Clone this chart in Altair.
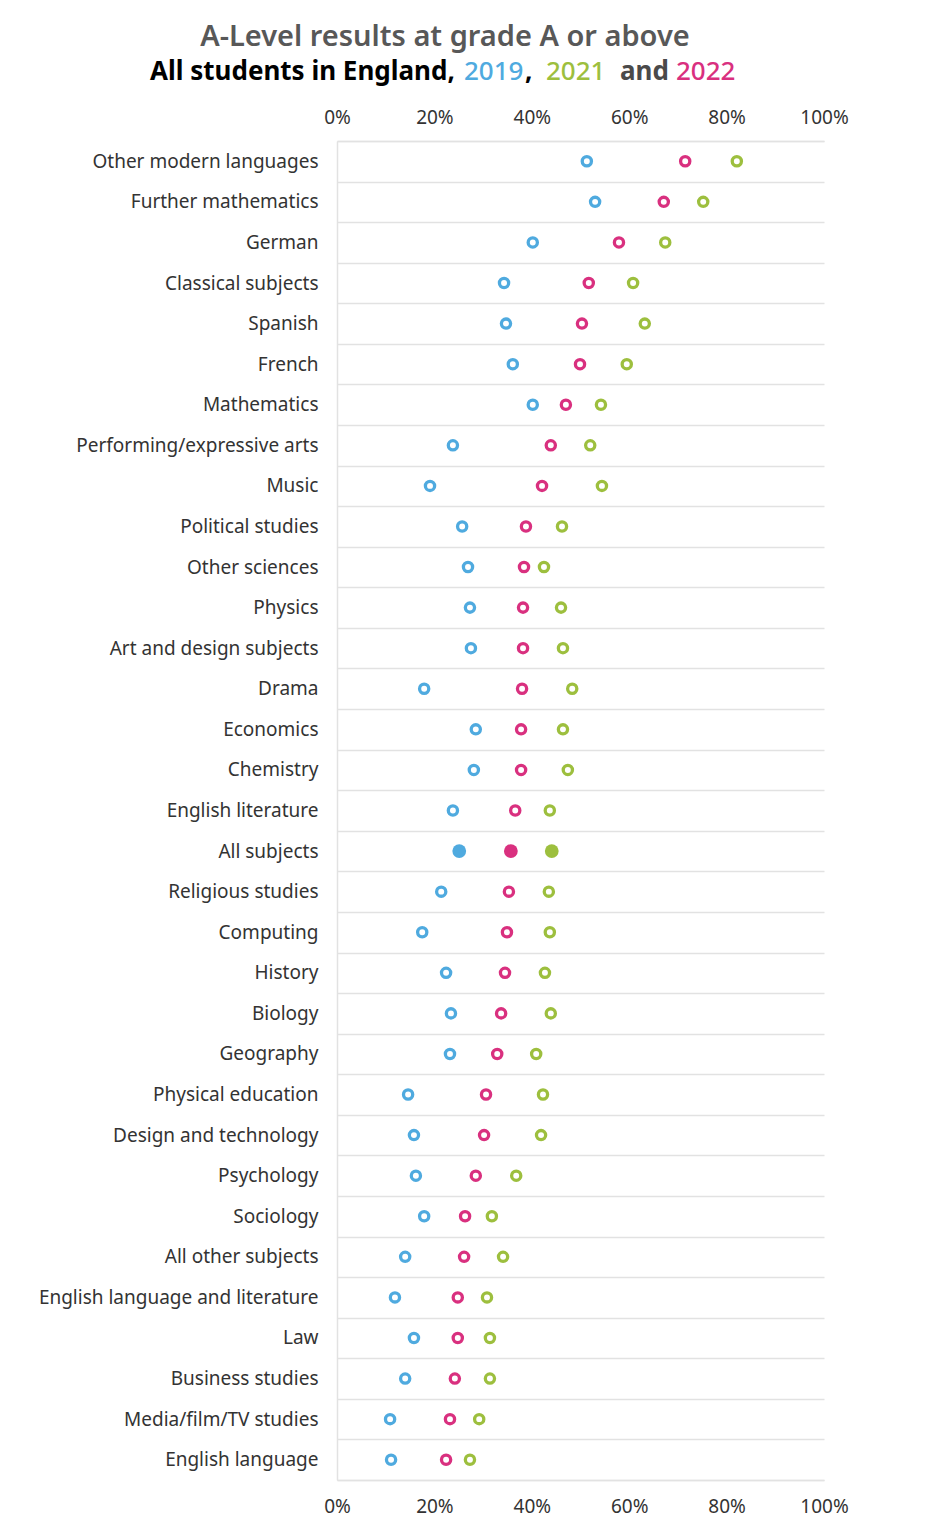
import altair as alt
import pandas as pd

subjects = [
    "Other modern languages", "Further mathematics", "German", "Classical subjects",
    "Spanish", "French", "Mathematics", "Performing/expressive arts", "Music",
    "Political studies", "Other sciences", "Physics", "Art and design subjects",
    "Drama", "Economics", "Chemistry", "English literature", "All subjects",
    "Religious studies", "Computing", "History", "Biology", "Geography",
    "Physical education", "Design and technology", "Psychology", "Sociology",
    "All other subjects", "English language and literature", "Law",
    "Business studies", "Media/film/TV studies", "English language",
]
v2019 = [51.3, 53.0, 40.2, 34.3, 34.7, 36.1, 40.2, 23.8, 19.1, 25.7, 26.9, 27.3, 27.5,
         17.9, 28.5, 28.1, 23.8, 25.1, 21.4, 17.5, 22.4, 23.4, 23.2, 14.6, 15.8, 16.2,
         17.9, 14.0, 11.9, 15.8, 14.0, 10.9, 11.1]
v2022 = [71.5, 67.1, 57.9, 51.7, 50.3, 49.9, 47.0, 43.9, 42.1, 38.8, 38.4, 38.2, 38.2,
         38.0, 37.8, 37.8, 36.6, 35.7, 35.3, 34.9, 34.5, 33.7, 32.9, 30.6, 30.2, 28.5,
         26.3, 26.1, 24.8, 24.8, 24.2, 23.2, 22.4]
v2021 = [82.1, 75.2, 67.4, 60.8, 63.2, 59.5, 54.2, 52.0, 54.4, 46.2, 42.5, 46.0, 46.4,
         48.3, 46.4, 47.4, 43.7, 44.1, 43.5, 43.7, 42.7, 43.9, 40.9, 42.3, 41.9, 36.8,
         31.8, 34.1, 30.8, 31.4, 31.4, 29.2, 27.3]
years = ["2019", "2021", "2022"]
colors = ["#4faadf", "#9dbf3e", "#d9307f"]
tick_values = [0, 0.2, 0.4, 0.6, 0.8, 1.0]

rows = []
for i, s in enumerate(subjects):
    for yr, vals in zip(years, [v2019, v2021, v2022]):
        rows.append({"subject": s, "year": yr, "value": vals[i] / 100})
df = pd.DataFrame(rows)

FONT = "Noto Sans"
GRID = "#e2e2e2"

xscale = alt.Scale(domain=[0, 1], nice=False, zero=True)
yscale = alt.Scale(domain=subjects, paddingInner=0, paddingOuter=0)
cscale = alt.Scale(domain=years, range=colors)

def xaxis(orient, pad):
    return alt.Axis(orient=orient, values=tick_values, format="%", title=None,
                    ticks=False, grid=False, domain=True, domainColor=GRID,
                    domainWidth=1.5, labelFontSize=19, labelColor="#333333",
                    labelFont=FONT, labelPadding=pad, labelFlush=False,
                    labelOverlap=False)

yaxis = alt.Axis(title=None, ticks=False, grid=True, gridColor=GRID, gridWidth=1.5,
                 tickBand="extent", domain=True, domainColor=GRID, domainWidth=1.5,
                 labelFontSize=19, labelColor="#333333", labelFont=FONT,
                 labelPadding=19, labelLimit=400)

base = alt.Chart(df)

rings = base.transform_filter(alt.datum.subject != "All subjects").mark_point(
    shape="circle", filled=False, size=85, strokeWidth=3.3, opacity=1
).encode(
    x=alt.X("value:Q", scale=xscale, axis=xaxis("top", 14)),
    y=alt.Y("subject:N", scale=yscale, axis=yaxis, sort=subjects),
    color=alt.Color("year:N", scale=cscale, legend=None),
)

dots = base.transform_filter(alt.datum.subject == "All subjects").mark_point(
    shape="circle", filled=True, size=190, opacity=1
).encode(
    x=alt.X("value:Q", scale=xscale, axis=xaxis("bottom", 17)),
    y=alt.Y("subject:N", scale=yscale, sort=subjects),
    color=alt.Color("year:N", scale=cscale, legend=None),
)

one = alt.Data(values=[{}])

def label(txt, x, y, color, size=26, weight="bold", align="left"):
    return alt.Chart(one).mark_text(
        text=txt, color=color, fontSize=size, fontWeight=weight, font=FONT,
        align=align, baseline="alphabetic"
    ).encode(x=alt.value(x), y=alt.value(y))

title1 = label("A-Level results at grade A or above", 108, -95, "#585858", size=29,
               weight=600, align="center")
t2a = label("All students in England,", -187, -61, "#000000")
t2b = label("2019", 127, -61, colors[0], weight=500)
t2c = label(",", 188, -61, "#000000")
t2d = label("2021", 209, -61, colors[1], weight=500)
t2e = label("and", 283, -61, "#4a4a4a")
t2f = label("2022", 339, -61, colors[2], weight=500)

chart = alt.layer(rings, dots, title1, t2a, t2b, t2c, t2d, t2e, t2f).resolve_axis(
    x="independent"
).properties(
    width=487, height=1339, padding={"left": 38, "top": 23, "right": 10, "bottom": 10}
).configure_view(stroke=None)

chart.save("out.html", embed_options={"renderer": "svg", "actions": False})
